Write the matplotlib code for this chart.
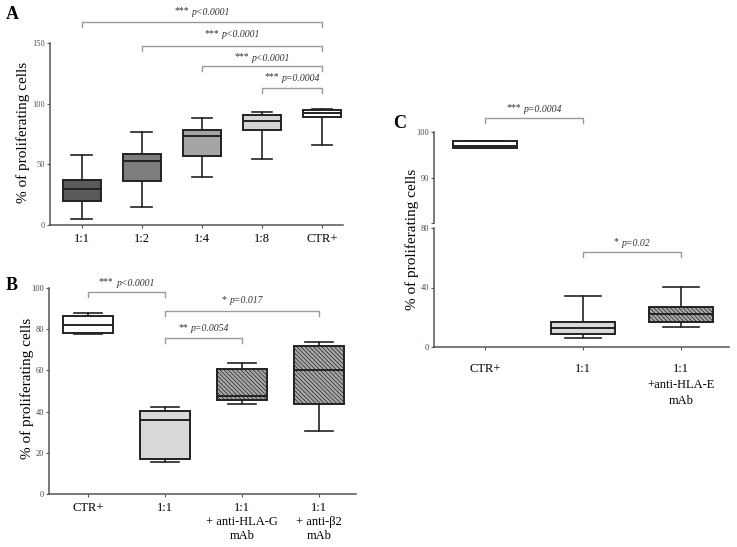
import numpy as np
import matplotlib
matplotlib.use('Agg')
import matplotlib.pyplot as plt

plt.rcParams['font.family'] = ['Liberation Serif', 'DejaVu Serif']
plt.rcParams['hatch.linewidth'] = 0.5

# panel A: dilution ratios
a_labels = ['1:1', '1:2', '1:4', '1:8', 'CTR+']
a_low = [5, 15, 39.5, 54.7, 65.6]
a_q1 = [20, 36, 56.5, 78.7, 88.8]
a_med = [30, 53, 73, 86, 92]
a_q3 = [37.5, 58.5, 78, 91, 95]
a_high = [58, 77, 88.5, 93, 96]
a_colors = ['#5a5a5a', '#7d7d7d', '#a5a5a5', '#d4d4d4', '#ffffff']
a_pairs = [(0, 4), (1, 4), (2, 4), (3, 4)]
a_stars = ['***', '***', '***', '***']
a_pvals = ['p<0.0001', 'p<0.0001', 'p<0.0001', 'p=0.0004']

# panel B: HLA-G / beta2 blocking
b_labels = ['CTR+', '1:1', '1:1\n+ anti-HLA-G\nmAb', '1:1\n+ anti-\u03b22\nmAb']
b_low = [77.7, 15.5, 43.9, 30.7]
b_q1 = [78.2, 16.8, 45.5, 43.7]
b_med = [82, 36, 47.6, 60]
b_q3 = [86.4, 40.3, 60.7, 72]
b_high = [88, 42.2, 63.6, 73.6]
b_colors = ['#ffffff', '#d9d9d9', '#a8a8a8', '#a8a8a8']
b_hatch = [None, None, '\\\\\\\\\\\\\\\\', '\\\\\\\\\\\\\\\\']
b_pairs = [(0, 1), (1, 3), (1, 2)]
b_stars = ['***', '*', '**']
b_pvals = ['p<0.0001', 'p=0.017', 'p=0.0054']

# panel C: HLA-E blocking (broken axis)
c_labels = ['CTR+', '1:1', '1:1\n+anti-HLA-E\nmAb']
c_low = [96.6, 5.6, 13]
c_q1 = [96.6, 8.3, 16.7]
c_med = [96.9, 12.8, 21.9]
c_q3 = [98, 16.5, 26.6]
c_high = [98, 34.5, 40.6]
c_colors = ['#ffffff', '#d9d9d9', '#a8a8a8']
c_hatch = [None, None, '\\\\\\\\\\\\\\\\']
c_stars = ['***', '*']
c_pvals = ['p=0.0004', 'p=0.02']

W, H = 737, 547
fig = plt.figure(figsize=(W / 100, H / 100), dpi=100)


def rect(x0, y_top, x1, y_bot):
    return [x0 / W, 1 - y_bot / H, (x1 - x0) / W, (y_bot - y_top) / H]


def stats(low, q1, med, q3, high):
    return [dict(whislo=l, q1=a, med=m, q3=b, whishi=h, fliers=[])
            for l, a, m, b, h in zip(low, q1, med, q3, high)]


def draw_boxes(ax, st, width, colors, hatches=None):
    bp = ax.bxp(st, positions=range(len(st)), widths=width, patch_artist=True,
                showfliers=False, capwidths=width * 0.55,
                boxprops=dict(edgecolor='#222222', linewidth=1.4),
                medianprops=dict(color='#222222', linewidth=1.4),
                whiskerprops=dict(color='#222222', linewidth=1.2),
                capprops=dict(color='#222222', linewidth=1.2))
    for i, patch in enumerate(bp['boxes']):
        patch.set_facecolor(colors[i])
        if hatches and hatches[i]:
            patch.set_hatch(hatches[i])
    return bp


def bracket(ax, x1, x2, y, d, stars, p, ty):
    ax.plot([x1, x1, x2, x2], [y - d, y, y, y - d], color='#9a9a9a', lw=1,
            clip_on=False)
    # stars upright, p-value italic; rough widths in points to centre the pair
    sw = 3.5 * len(stars)
    pw = 3.4 * len(p)
    left = -(sw + 2 + pw) / 2
    xm = (x1 + x2) / 2
    ax.annotate(stars, (xm, ty), xytext=(left + sw, 1), textcoords='offset points',
                ha='right', va='center', fontsize=7, color='#333333',
                annotation_clip=False)
    ax.annotate(p, (xm, ty), xytext=(left + sw + 2, 0), textcoords='offset points',
                ha='left', va='center', fontsize=7, color='#333333',
                style='italic', annotation_clip=False)


def style(ax, tick_color='#444444'):
    for s in ['top', 'right']:
        ax.spines[s].set_visible(False)
    for s in ['left', 'bottom']:
        ax.spines[s].set_color('#555555')
        ax.spines[s].set_linewidth(1.1)
    ax.tick_params(axis='y', labelsize=6, labelcolor=tick_color, length=2.5,
                   width=0.8, color='#555555', pad=1)
    ax.tick_params(axis='x', labelsize=9, length=2.5, width=0.8,
                   color='#555555', pad=3)


# ---- A ----
axA = fig.add_axes(rect(50, 43, 343, 225))
draw_boxes(axA, stats(a_low, a_q1, a_med, a_q3, a_high), 0.63, a_colors)
axA.set_xlim(-0.53, 4.35)
axA.set_ylim(0, 150)
axA.set_yticks([0, 50, 100, 150])
axA.set_xticks(range(len(a_labels)))
axA.set_xticklabels(a_labels)
style(axA, '#5a5040')
for (i, j), s, p, y, ty in zip(a_pairs, a_stars, a_pvals,
                               [167.3, 147.5, 131, 113], [175.5, 156.6, 137.6, 121]):
    bracket(axA, i, j, y, 4, s, p, ty)

# ---- B ----
axB = fig.add_axes(rect(49, 288, 356, 494))
draw_boxes(axB, stats(b_low, b_q1, b_med, b_q3, b_high), 0.65, b_colors, b_hatch)
axB.set_xlim(-0.506, 3.48)
axB.set_ylim(0, 100)
axB.set_yticks([0, 20, 40, 60, 80, 100])
axB.set_xticks(range(len(b_labels)))
axB.set_xticklabels(b_labels, linespacing=1.25)
style(axB)
for (i, j), s, p, y, ty in zip(b_pairs, b_stars, b_pvals,
                               [98.2, 89, 75.7], [102.4, 93.8, 80.1]):
    bracket(axB, i, j, y, 2.4, s, p, ty)

# ---- C (broken axis) ----
c_st = stats(c_low, c_q1, c_med, c_q3, c_high)
axCt = fig.add_axes(rect(434, 132.3, 729, 223))
axCb = fig.add_axes(rect(434, 228.3, 729, 346.7))
for ax in (axCt, axCb):
    draw_boxes(ax, c_st, 0.66, c_colors, c_hatch)
    ax.set_xlim(-0.52, 2.49)
    style(ax, '#2f5070')
axCt.set_ylim(80, 100)
axCt.set_yticks([80, 90, 100])
axCt.set_yticklabels(['', '90', '100'])
axCt.spines['bottom'].set_visible(False)
axCt.set_xticks([])
axCb.set_ylim(0, 80)
axCb.set_yticks([0, 40, 80])
axCb.set_xticks(range(len(c_labels)))
axCb.set_xticklabels(c_labels, linespacing=1.45)
axCb.tick_params(axis='x', pad=9)
bracket(axCt, 0, 1, 103.1, 1.1, c_stars[0], c_pvals[0], 105.1)
bracket(axCb, 1, 2, 64.2, 3.4, c_stars[1], c_pvals[1], 70)

# y labels and panel letters
for x, y in [(23, 132), (27, 388), (412, 239)]:
    fig.text(x / W, 1 - y / H, '% of proliferating cells', rotation=90,
             ha='center', va='center', fontsize=11)
for x, y, t in [(12.5, 14.5, 'A'), (11.5, 285.5, 'B'), (400, 123.5, 'C')]:
    fig.text(x / W, 1 - y / H, t, ha='center', va='center', fontsize=13,
             fontweight='bold')

fig.savefig('out.png', dpi=100)
